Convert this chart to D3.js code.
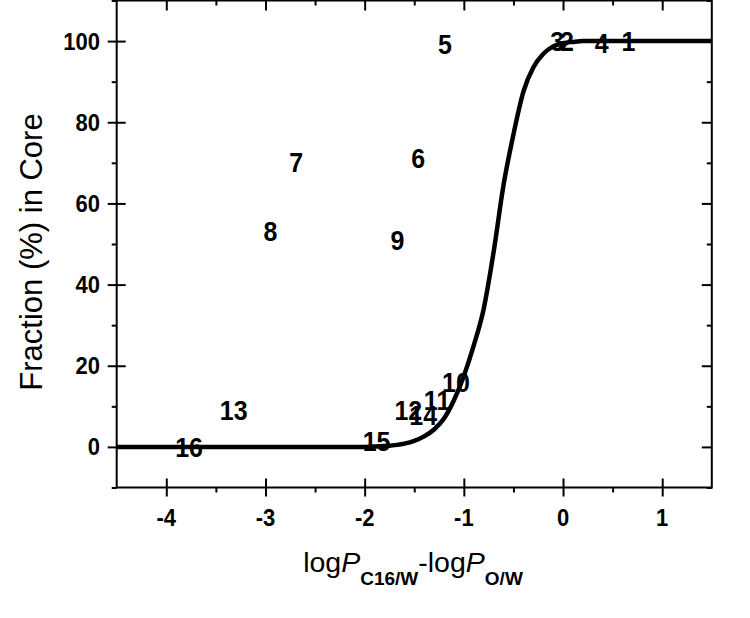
<!DOCTYPE html>
<html><head><meta charset="utf-8">
<script src="https://cdn.jsdelivr.net/npm/d3@7"></script>
<style>body{margin:0;background:#fff}svg{display:block}</style>
</head><body>
<svg id="c" width="750" height="618"></svg>
<script>
// Data
const labels = ["1","2","3","4","5","6","7","8","9","10","11","12","13","14","15","16"];
const labelX = [0.66, 0.04, -0.06, 0.39, -1.19, -1.46, -2.69, -2.95, -1.67, -1.08, -1.27, -1.56, -3.32, -1.41, -1.88, -3.77];
const labelY = [100, 100, 100, 99.5, 99.2, 71.1, 70.3, 53.2, 51.1, 15.9, 11.7, 9.2, 9.2, 8.0, 1.4, 0.1];
const curveX = [-4.5, -2.0, -1.8, -1.6, -1.5, -1.4, -1.3, -1.2, -1.1, -1.0, -0.9, -0.8, -0.7, -0.6, -0.5, -0.4, -0.3, -0.2, -0.1, 0.0, 0.1, 0.2, 0.4, 1.5];
const curveY = [0, 0, 0.2, 0.8, 1.5, 2.6, 4.3, 7, 11.5, 17.5, 25, 34, 48, 64.5, 77, 87.5, 93.5, 96.8, 98.7, 99.5, 99.8, 100, 100, 100];
const xTicks = [-4, -3, -2, -1, 0, 1];
const xMinor = [-3.5, -2.5, -1.5, -0.5, 0.5];
const yTicks = [0, 20, 40, 60, 80, 100];
const yMinor = [-10, 10, 30, 50, 70, 90, 110];

const L = 116.7, R = 711.8, T = 0.5, B = 487.5;
const x = d3.scaleLinear().domain([-4.5, 1.5]).range([L, R]);
const y = d3.scaleLinear().domain([-10, 110]).range([B, T]);
const svg = d3.select("#c");
const font = "Arial, 'Liberation Sans', Helvetica, sans-serif";

function styleAxis(g){ g.select(".domain").remove(); g.selectAll("text").remove(); g.selectAll("line").attr("stroke","#000").attr("stroke-width",2); }
// bottom: major ticks cross the axis, minor ticks outward
svg.append("g").attr("transform",`translate(0,${B})`).call(d3.axisBottom(x).tickValues(xTicks).tickSizeInner(9).tickSizeOuter(0)).call(styleAxis);
svg.append("g").attr("transform",`translate(0,${B})`).call(d3.axisTop(x).tickValues(xTicks).tickSizeInner(9).tickSizeOuter(0)).call(styleAxis);
svg.append("g").attr("transform",`translate(0,${B})`).call(d3.axisBottom(x).tickValues(xMinor).tickSizeInner(5).tickSizeOuter(0)).call(styleAxis);
// top: inward
svg.append("g").attr("transform",`translate(0,${T})`).call(d3.axisBottom(x).tickValues(xTicks).tickSizeInner(10).tickSizeOuter(0)).call(styleAxis);
svg.append("g").attr("transform",`translate(0,${T})`).call(d3.axisBottom(x).tickValues(xMinor).tickSizeInner(5).tickSizeOuter(0)).call(styleAxis);
// left: major crossing, minor outward
svg.append("g").attr("transform",`translate(${L},0)`).call(d3.axisLeft(y).tickValues(yTicks).tickSizeInner(9).tickSizeOuter(0)).call(styleAxis);
svg.append("g").attr("transform",`translate(${L},0)`).call(d3.axisRight(y).tickValues(yTicks).tickSizeInner(9).tickSizeOuter(0)).call(styleAxis);
svg.append("g").attr("transform",`translate(${L},0)`).call(d3.axisLeft(y).tickValues(yMinor).tickSizeInner(5).tickSizeOuter(0)).call(styleAxis);
// right: inward
svg.append("g").attr("transform",`translate(${R},0)`).call(d3.axisLeft(y).tickValues(yTicks).tickSizeInner(10).tickSizeOuter(0)).call(styleAxis);
svg.append("g").attr("transform",`translate(${R},0)`).call(d3.axisLeft(y).tickValues(yMinor).tickSizeInner(5).tickSizeOuter(0)).call(styleAxis);

// frame
svg.append("rect").attr("x",L).attr("y",T).attr("width",R-L).attr("height",B-T)
  .attr("fill","none").attr("stroke","#000").attr("stroke-width",2);

// tick labels
svg.append("g").selectAll("text").data(xTicks).join("text")
  .attr("transform",d=>`translate(${x(d)},526) scale(1,1.08)`).attr("text-anchor","middle")
  .attr("font-family",font).attr("font-weight","bold").attr("font-size",22)
  .text(d=>d<0?"-"+Math.abs(d):d);
svg.append("g").selectAll("text").data(yTicks).join("text")
  .attr("transform",d=>`translate(100,${y(d)}) scale(1,1.08)`).attr("dy","0.36em").attr("text-anchor","end")
  .attr("font-family",font).attr("font-weight","bold").attr("font-size",22)
  .text(d=>d);

// curve
const pts = curveX.map((v,i)=>[v,curveY[i]]);
svg.append("path").datum(pts)
  .attr("d", d3.line().x(d=>x(d[0])).y(d=>y(d[1])).curve(d3.curveMonotoneX))
  .attr("fill","none").attr("stroke","#000").attr("stroke-width",4.5);

// data labels
svg.append("g").selectAll("text").data(labels).join("text")
  .attr("transform",(d,i)=>`translate(${x(labelX[i])},${y(labelY[i])}) scale(1,1.12)`).attr("dy","0.36em")
  .attr("text-anchor","middle").attr("font-family",font).attr("font-weight","bold").attr("font-size",25)
  .text(d=>d);

// axis titles
svg.append("text").attr("transform","translate(42,252) rotate(-90)").attr("text-anchor","middle")
  .attr("font-family",font).attr("font-size",31).text("Fraction (%) in Core");

const xt = svg.append("text").attr("x",413).attr("y",572).attr("text-anchor","middle")
  .attr("font-family",font).attr("font-size",28.5);
xt.append("tspan").text("log");
xt.append("tspan").attr("font-style","italic").text("P");
xt.append("tspan").attr("font-weight","bold").attr("font-size",19).attr("dy",13).text("C16/W");
xt.append("tspan").attr("dy",-13).text("-log");
xt.append("tspan").attr("font-style","italic").text("P");
xt.append("tspan").attr("font-weight","bold").attr("font-size",19).attr("dy",13).text("O/W");
</script>
</body></html>
